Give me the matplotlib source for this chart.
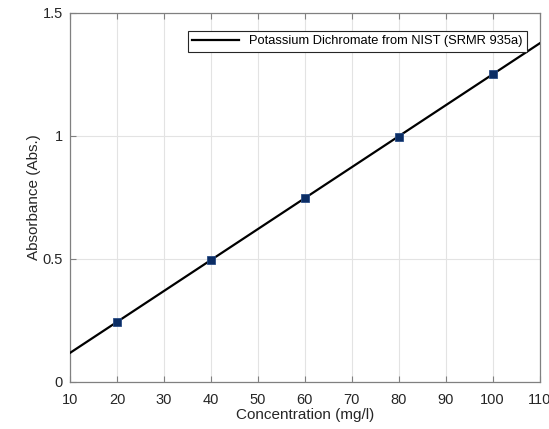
import numpy as np
import matplotlib.pyplot as plt

plt.rcParams['font.family'] = ['Liberation Sans', 'DejaVu Sans']

# measured calibration points
conc = [20, 40, 60, 80, 100]
absorb = [0.244, 0.496, 0.748, 0.996, 1.252]
line_x = [10, 110]

xticks = list(range(10, 111, 10))
yticks = [0, 0.5, 1, 1.5]
ytick_labels = ['0', '0.5', '1', '1.5']

# linear fit through the points
slope, icept = np.polyfit(conc, absorb, 1)
fit_y = [slope * x + icept for x in line_x]

fig = plt.figure(figsize=(5.49, 4.29), dpi=100)
ax = fig.add_axes([0.1275, 0.1096, 0.8552, 0.8601])

ax.plot(line_x, fit_y, color='black', lw=1.6, label='Potassium Dichromate from NIST (SRMR 935a)', zorder=3)
ax.plot(conc, absorb, 's', color='#0b2d64', mec='#2a4d86', mew=0.6, ms=5.5, zorder=4)

ax.set_xlim(10, 110)
ax.set_ylim(0, 1.5)
ax.set_xticks(xticks)
ax.set_yticks(yticks)
ax.set_yticklabels(ytick_labels)
ax.grid(True, color='#e3e3e3', lw=0.8)
ax.set_axisbelow(True)

for s in ax.spines.values():
    s.set_color('#808080')
    s.set_linewidth(0.9)
ax.tick_params(direction='in', top=True, right=False, length=4, width=0.8,
               color='#808080', labelsize=10.5, labelcolor='#262626')
ax.tick_params(axis='x', pad=8)
ax.tick_params(axis='y', pad=5)
ax.set_xlabel('Concentration (mg/l)', fontsize=11, color='#262626', labelpad=1)
ax.set_ylabel('Absorbance (Abs.)', fontsize=11, color='#262626', labelpad=1)

leg = ax.legend(loc='upper right', fontsize=9.3, fancybox=False, framealpha=1,
                edgecolor='#262626', borderpad=0.35, handlelength=3.6,
                bbox_to_anchor=(0.987, 0.97))
leg.get_frame().set_linewidth(0.8)

fig.savefig('out.png', dpi=100)
